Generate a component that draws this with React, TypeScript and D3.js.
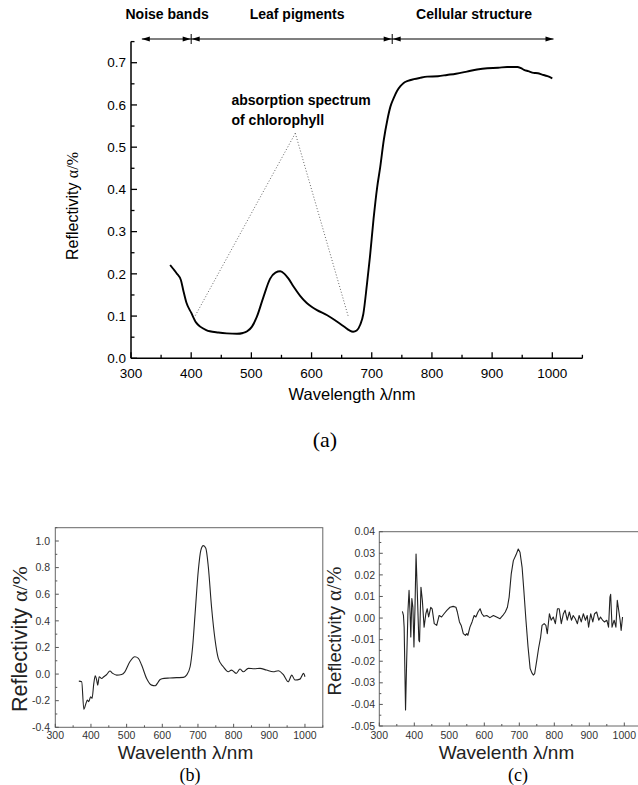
import React from "react";
import * as d3 from "d3";

// ---------- Data ----------
const TOP_WL = [365, 370, 376, 383, 387, 392, 400, 408, 415, 425, 431, 445, 459, 476, 486, 493, 501, 509, 520, 531, 540, 548, 555, 562, 570, 581, 592, 600, 609, 626, 642, 655, 663, 669, 675, 681, 686, 692, 697, 703, 709, 714, 720, 726, 731, 737, 742, 748, 753, 760, 770, 780, 792, 810, 825, 840, 858, 875, 892, 910, 925, 942, 948, 953, 960, 969, 976, 983, 992, 1000];
const TOP_R = [0.221, 0.212, 0.201, 0.185, 0.16, 0.132, 0.108, 0.085, 0.075, 0.067, 0.064, 0.061, 0.059, 0.058, 0.06, 0.064, 0.075, 0.098, 0.145, 0.188, 0.203, 0.206, 0.2, 0.188, 0.17, 0.148, 0.131, 0.122, 0.114, 0.102, 0.087, 0.074, 0.066, 0.063, 0.066, 0.08, 0.105, 0.175, 0.24, 0.33, 0.405, 0.452, 0.517, 0.565, 0.596, 0.618, 0.633, 0.645, 0.652, 0.657, 0.661, 0.664, 0.667, 0.668, 0.671, 0.674, 0.679, 0.684, 0.687, 0.688, 0.69, 0.69, 0.687, 0.683, 0.68, 0.676, 0.675, 0.672, 0.668, 0.663];

const B_WL = [366, 374, 380, 386, 390, 394, 399, 403, 408, 412, 416, 419, 423, 430, 436, 444, 453, 461, 472, 486, 495, 509, 523, 533, 542, 556, 570, 580, 589, 594, 605, 621, 640, 659, 668, 678, 685, 692, 701, 708, 715, 722, 729, 738, 748, 757, 771, 785, 794, 807, 818, 827, 841, 858, 874, 892, 911, 925, 939, 953, 963, 972, 986, 996, 1000];
const B_R = [-0.053, -0.058, -0.265, -0.22, -0.195, -0.208, -0.17, -0.183, -0.07, -0.013, -0.045, -0.083, -0.02, -0.033, -0.02, -0.003, 0.023, 0.005, -0.008, -0.003, 0.017, 0.093, 0.13, 0.118, 0.068, -0.033, -0.083, -0.088, -0.058, -0.04, -0.032, -0.03, -0.027, -0.025, -0.008, 0.055, 0.205, 0.456, 0.78, 0.93, 0.965, 0.945, 0.807, 0.506, 0.256, 0.118, 0.055, 0.017, 0.03, 0.005, 0.038, 0.017, 0.043, 0.04, 0.043, 0.03, 0.017, 0.025, -0.003, -0.058, -0.008, -0.045, -0.038, 0.005, -0.02];

const C_WL = [366, 369, 371, 375, 378, 382, 385, 388, 390, 393, 396, 399, 402, 405, 409, 413, 415, 419, 423, 428, 433, 437, 441, 447, 451, 457, 464, 471, 478, 485, 493, 502, 511, 519, 523, 529, 534, 540, 546, 550, 553, 559, 565, 571, 576, 582, 588, 593, 599, 607, 616, 626, 635, 645, 653, 660, 666, 671, 677, 683, 691, 697, 702, 708, 713, 719, 725, 731, 736, 740, 744, 750, 755, 761, 765, 771, 776, 780, 786, 791, 797, 803, 809, 814, 820, 826, 831, 837, 843, 849, 854, 860, 866, 871, 877, 883, 889, 894, 898, 904, 910, 915, 921, 927, 932, 938, 943, 950, 955, 959, 961, 965, 971, 976, 980, 984, 988, 991, 995];
const C_R = [0.0031, 0.0012, -0.0042, -0.0426, -0.021, 0.0036, 0.0128, 0.002, -0.0088, 0.009, 0.005, -0.0134, 0.005, 0.0297, 0.0097, -0.0103, -0.011, 0.0143, 0.0082, -0.0042, 0.002, 0.0043, 0.0005, 0.005, 0.0043, -0.0026, -0.0034, 0.0012, 0.0005, 0.002, 0.0036, 0.005, 0.0054, 0.005, 0.0028, -0.0018, -0.0034, -0.0072, -0.008, -0.0072, -0.008, -0.0042, -0.0018, 0.0012, 0.0005, 0.0028, 0.0043, 0.002, 0.0008, 0.0012, 0.0002, 0.0012, 0.0005, -0.0003, 0.0012, 0.0028, 0.005, 0.0097, 0.0205, 0.0266, 0.0294, 0.032, 0.0305, 0.0235, 0.0128, -0.001, -0.0134, -0.0234, -0.0254, -0.0264, -0.0257, -0.0195, -0.0141, -0.0088, -0.0034, -0.0026, -0.0034, -0.0072, 0.002, -0.001, 0.0005, -0.0026, 0.0043, 0.0043, -0.0026, 0.002, 0.0036, -0.001, 0.0028, -0.001, 0.0012, -0.0003, -0.0026, 0.0012, -0.0018, 0.002, -0.001, 0.0012, -0.0042, 0.002, -0.0018, 0.002, 0.0028, -0.001, 0.0005, -0.001, -0.0018, -0.001, -0.0042, 0.0097, 0.011, -0.0042, -0.001, -0.0042, 0.0082, 0.0036, -0.001, -0.0057, 0.0005];

const X_MAJOR = [300, 400, 500, 600, 700, 800, 900, 1000];
const X_MINOR = [350, 450, 550, 650, 750, 850, 950, 1050];
const TOP_Y_MAJOR = [0, 0.1, 0.2, 0.3, 0.4, 0.5, 0.6, 0.7];
const TOP_Y_MINOR = [0.05, 0.15, 0.25, 0.35, 0.45, 0.55, 0.65, 0.75];
const B_Y_MAJOR = [-0.4, -0.2, 0, 0.2, 0.4, 0.6, 0.8, 1.0];
const B_Y_MINOR = [-0.3, -0.1, 0.1, 0.3, 0.5, 0.7, 0.9, 1.1];
const C_Y_MAJOR = [-0.05, -0.04, -0.03, -0.02, -0.01, 0, 0.01, 0.02, 0.03, 0.04];
const C_Y_MINOR = [-0.045, -0.035, -0.025, -0.015, -0.005, 0.005, 0.015, 0.025, 0.035];

const BAND_EDGES = [318, 400, 734, 1002];
const BAND_LABELS = ["Noise bands", "Leaf pigments", "Cellular structure"];
const BAND_LABEL_AT = [360, 576, 870];

const NOTE_LINES = ["absorption spectrum", "of chlorophyll"];
const NOTE_APEX = [573, 0.533];
const NOTE_ENDS = [[406, 0.099], [661, 0.099]];

const SANS = "'Liberation Sans', Arial, sans-serif";
const SERIF = "'Liberation Serif', 'Times New Roman', serif";

function Arrow({ x, y, dir }: { x: number; y: number; dir: number }) {
  const L = 8, W = 2.6;
  return <path d={`M${x},${y} L${x - dir * L},${y - W} L${x - dir * L},${y + W} Z`} fill="#000" />;
}

export default function App() {
  // ---- top chart scales ----
  const xA = d3.scaleLinear().domain([300, 1050]).range([131, 582.4]);
  const yA = d3.scaleLinear().domain([0, 0.75]).range([358.3, 41.6]);
  const lineA = d3.line<number>().x((_, i) => xA(TOP_WL[i])).y(d => yA(d)).curve(d3.curveMonotoneX);

  // ---- (b) ----
  const xB = d3.scaleLinear().domain([300, 1050]).range([55.3, 322.8]);
  const yB = d3.scaleLinear().domain([-0.4, 1.1]).range([727.3, 527.7]);
  const lineB = d3.line<number>().x((_, i) => xB(B_WL[i])).y(d => yB(d)).curve(d3.curveMonotoneX);

  // ---- (c) ----
  const xC = d3.scaleLinear().domain([300, 1050]).range([379.3, 641.8]);
  const yC = d3.scaleLinear().domain([-0.05, 0.04]).range([726, 531.7]);
  const lineC = d3.line<number>().x((_, i) => xC(C_WL[i])).y(d => yC(d));

  const bandY = 39;

  return (
    <div style={{ position: "absolute", left: 0, top: 0 }}>
      <svg width={638} height={785} style={{ display: "block", background: "#fff" }}>
        {/* ===== Top chart (a) ===== */}
        {BAND_LABELS.map((t, i) => (
          <text key={t} x={xA(BAND_LABEL_AT[i])} y={19} textAnchor="middle" fontFamily={SANS} fontWeight="bold" fontSize={14}>{t}</text>
        ))}
        <line x1={xA(BAND_EDGES[0])} x2={xA(BAND_EDGES[3])} y1={bandY} y2={bandY} stroke="#000" strokeWidth={1.2} />
        <Arrow x={xA(BAND_EDGES[0])} y={bandY} dir={-1} />
        <Arrow x={xA(BAND_EDGES[3])} y={bandY} dir={1} />
        {BAND_EDGES.slice(1, 3).map(e => (
          <g key={e}>
            <line x1={xA(e)} x2={xA(e)} y1={bandY - 5} y2={bandY + 5} stroke="#000" strokeWidth={1} />
            <Arrow x={xA(e) - 0.5} y={bandY} dir={1} />
            <Arrow x={xA(e) + 0.5} y={bandY} dir={-1} />
          </g>
        ))}

        {/* axes */}
        <line x1={xA(300)} x2={xA(1050)} y1={yA(0)} y2={yA(0)} stroke="#000" strokeWidth={1.5} />
        <line x1={xA(300)} x2={xA(300)} y1={yA(0)} y2={yA(0.75)} stroke="#000" strokeWidth={1.5} />
        {X_MAJOR.map(v => (
          <g key={"xa" + v}>
            <line x1={xA(v)} x2={xA(v)} y1={yA(0)} y2={yA(0) - 6} stroke="#000" strokeWidth={1.3} />
            <text x={xA(v)} y={378} textAnchor="middle" fontFamily={SANS} fontSize={13.5}>{v}</text>
          </g>
        ))}
        {X_MINOR.map(v => (
          <line key={"xam" + v} x1={xA(v)} x2={xA(v)} y1={yA(0)} y2={yA(0) - 3.5} stroke="#000" strokeWidth={1.3} />
        ))}
        {TOP_Y_MAJOR.map(v => (
          <g key={"ya" + v}>
            <line x1={xA(300)} x2={xA(300) + 6} y1={yA(v)} y2={yA(v)} stroke="#000" strokeWidth={1.3} />
            <text x={126} y={yA(v)} dy="0.35em" textAnchor="end" fontFamily={SANS} fontSize={13.5}>{v.toFixed(1)}</text>
          </g>
        ))}
        {TOP_Y_MINOR.map(v => (
          <line key={"yam" + v} x1={xA(300)} x2={xA(300) + 3.5} y1={yA(v)} y2={yA(v)} stroke="#000" strokeWidth={1.3} />
        ))}
        <text transform="translate(78,206) rotate(-90)" textAnchor="middle" fontFamily={SANS} fontSize={16}>
          Reflectivity <tspan fontFamily={SERIF} fontSize={16}>α/%</tspan>
        </text>
        <text x={352} y={400} textAnchor="middle" fontFamily={SANS} fontSize={16.5}>Wavelength λ/nm</text>
        <text x={325} y={447} textAnchor="middle" fontFamily={SERIF} fontSize={22}>(a)</text>

        {/* annotation */}
        {NOTE_ENDS.map((p, i) => (
          <line key={"n" + i} x1={xA(NOTE_APEX[0])} y1={yA(NOTE_APEX[1])} x2={xA(p[0])} y2={yA(p[1])} stroke="#555" strokeWidth={0.9} strokeDasharray="1,2" />
        ))}
        {NOTE_LINES.map((t, i) => (
          <text key={t} x={231.5} y={104.5 + i * 20} fontFamily={SANS} fontWeight="bold" fontSize={14}>{t}</text>
        ))}

        <path d={lineA(TOP_R) || ""} fill="none" stroke="#000" strokeWidth={1.9} strokeLinejoin="round" />

        {/* ===== (b) ===== */}
        <rect x={xB(300)} y={yB(1.1)} width={xB(1050) - xB(300)} height={yB(-0.4) - yB(1.1)} fill="none" stroke="#666" strokeWidth={1} />
        {X_MAJOR.map(v => (
          <g key={"xb" + v}>
            <line x1={xB(v)} x2={xB(v)} y1={yB(-0.4)} y2={yB(-0.4) - 3.5} stroke="#555" />
            <text x={xB(v)} y={739} textAnchor="middle" fontFamily={SANS} fontSize={10.5} fill="#333">{v}</text>
          </g>
        ))}
        {X_MINOR.map(v => (
          <line key={"xbm" + v} x1={xB(v)} x2={xB(v)} y1={yB(-0.4)} y2={yB(-0.4) - 2} stroke="#555" />
        ))}
        {B_Y_MAJOR.map(v => (
          <g key={"yb" + v}>
            <line x1={xB(300)} x2={xB(300) + 3.5} y1={yB(v)} y2={yB(v)} stroke="#555" />
            <text x={50} y={yB(v)} dy="0.35em" textAnchor="end" fontFamily={SANS} fontSize={10.5} fill="#333">{v.toFixed(1)}</text>
          </g>
        ))}
        {B_Y_MINOR.map(v => (
          <line key={"ybm" + v} x1={xB(300)} x2={xB(300) + 2} y1={yB(v)} y2={yB(v)} stroke="#555" />
        ))}
        <path d={lineB(B_R) || ""} fill="none" stroke="#222" strokeWidth={1.1} strokeLinejoin="round" />
        <text transform="translate(27,639) rotate(-90)" textAnchor="middle" fontFamily={SANS} fontSize={21.5} fill="#222">
          Reflectivity <tspan fontFamily={SERIF} fontSize={22}>α/%</tspan>
        </text>
        <text x={185.5} y={759} textAnchor="middle" fontFamily={SANS} fontSize={19} fill="#222">Wavelenth λ/nm</text>
        <text x={190} y={781} textAnchor="middle" fontFamily={SERIF} fontSize={18}>(b)</text>

        {/* ===== (c) ===== */}
        <rect x={xC(300)} y={yC(0.04)} width={xC(1050) - xC(300)} height={yC(-0.05) - yC(0.04)} fill="none" stroke="#666" strokeWidth={1} />
        {X_MAJOR.map(v => (
          <g key={"xc" + v}>
            <line x1={xC(v)} x2={xC(v)} y1={yC(-0.05)} y2={yC(-0.05) - 3.5} stroke="#555" />
            <text x={xC(v)} y={739} textAnchor="middle" fontFamily={SANS} fontSize={10.5} fill="#333">{v}</text>
          </g>
        ))}
        {X_MINOR.map(v => (
          <line key={"xcm" + v} x1={xC(v)} x2={xC(v)} y1={yC(-0.05)} y2={yC(-0.05) - 2} stroke="#555" />
        ))}
        {C_Y_MAJOR.map(v => (
          <g key={"yc" + v}>
            <line x1={xC(300)} x2={xC(300) + 3.5} y1={yC(v)} y2={yC(v)} stroke="#555" />
            <text x={375} y={yC(v)} dy="0.35em" textAnchor="end" fontFamily={SANS} fontSize={10.5} fill="#333">{(Math.abs(v) < 1e-9 ? 0 : v).toFixed(2)}</text>
          </g>
        ))}
        {C_Y_MINOR.map(v => (
          <line key={"ycm" + v} x1={xC(300)} x2={xC(300) + 2} y1={yC(v)} y2={yC(v)} stroke="#555" />
        ))}
        <path d={lineC(C_R) || ""} fill="none" stroke="#222" strokeWidth={1.1} strokeLinejoin="round" />
        <text transform="translate(341,631) rotate(-90)" textAnchor="middle" fontFamily={SANS} fontSize={18.5} fill="#222">
          Reflectivity <tspan fontFamily={SERIF} fontSize={21}>α/%</tspan>
        </text>
        <text x={506.5} y={759} textAnchor="middle" fontFamily={SANS} fontSize={19} fill="#222">Wavelenth λ/nm</text>
        <text x={518} y={781} textAnchor="middle" fontFamily={SERIF} fontSize={18}>(c)</text>
      </svg>
    </div>
  );
}
